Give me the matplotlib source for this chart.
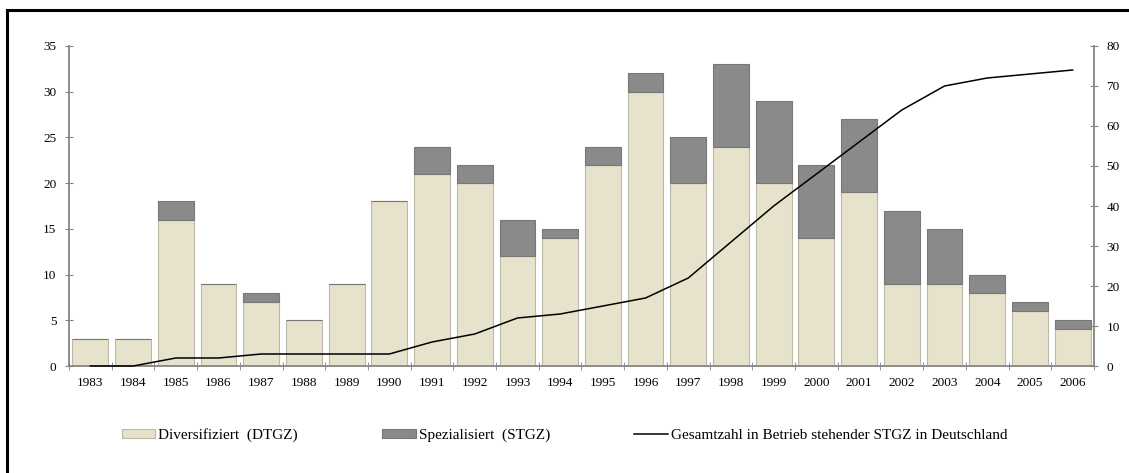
import numpy as np
import matplotlib.pyplot as plt
from matplotlib.lines import Line2D

plt.rcParams['font.family'] = ['Liberation Serif', 'DejaVu Serif']

# Daten
jahre = [str(j) for j in range(1983, 2007)]
diversifiziert = [3, 3, 16, 9, 7, 5, 9, 18, 21, 20, 12, 14, 22, 30, 20, 24, 20, 14, 19, 9, 9, 8, 6, 4]
spezialisiert = [0, 0, 2, 0, 1, 0, 0, 0, 3, 2, 4, 1, 2, 2, 5, 9, 9, 8, 8, 8, 6, 2, 1, 1]
gesamt_stgz = [0, 0, 2, 2, 3, 3, 3, 3, 6, 8, 12, 13, 15, 17, 22, 31, 40, 48, 56, 64, 70, 72, 73, 74]

FARBE_DIV = "#e6e2cc"
FARBE_SPEZ = "#8a8a8a"
ACHSE = "#858585"

fig = plt.figure(figsize=(11.29, 4.73), dpi=100)
ax1 = fig.add_axes([69 / 1129, 1 - 366 / 473, (1094 - 69) / 1129, 320 / 473])

x = np.arange(len(jahre))
ax1.bar(x, diversifiziert, width=0.84, color=FARBE_DIV, edgecolor="#bdb9a6", linewidth=0.8,
        label="Diversifiziert  (DTGZ)")
ax1.bar(x, spezialisiert, width=0.84, bottom=diversifiziert, color=FARBE_SPEZ, edgecolor="#777777",
        linewidth=0.8, label="Spezialisiert  (STGZ)")

ax1.set_xlim(-0.5, len(jahre) - 0.5)
ax1.set_ylim(0, 35)
ax1.set_yticks(range(0, 36, 5))
ax1.set_xticks(x)
ax1.set_xticklabels(jahre)
ax1.set_xticks(np.arange(-0.5, len(jahre), 1), minor=True)
ax1.tick_params(axis='x', which='major', length=0, pad=8, labelsize=9.5)
ax1.tick_params(axis='x', which='minor', length=6, direction='inout', color=ACHSE)
ax1.tick_params(axis='y', length=6, direction='inout', color=ACHSE, labelsize=9.5, pad=6)

ax2 = ax1.twinx()
ax2.plot(x, gesamt_stgz, color="black", linewidth=1.1, clip_on=False, zorder=5,
         label="Gesamtzahl in Betrieb stehender STGZ in Deutschland")
ax2.set_ylim(0, 80)
ax2.set_yticks(range(0, 81, 10))
ax2.tick_params(axis='y', length=6, direction='inout', color=ACHSE, labelsize=9.5, pad=6)

for ax in (ax1, ax2):
    ax.spines['top'].set_visible(False)
    for s in ('left', 'right', 'bottom'):
        ax.spines[s].set_color(ACHSE)
        ax.spines[s].set_linewidth(1.3)
ax1.spines['right'].set_visible(False)
ax2.spines['left'].set_visible(False)
ax2.spines['bottom'].set_visible(False)

h1, l1 = ax1.get_legend_handles_labels()
h2, l2 = ax2.get_legend_handles_labels()
fig.legend(h1 + h2, l1 + l2, loc='center', bbox_to_anchor=(0.5, 1 - 435 / 473), ncol=3,
           frameon=False, fontsize=11, handlelength=2.2, handleheight=0.5, columnspacing=5.5,
           handletextpad=0.2)

# Rahmen (oben und links)
fig.add_artist(Line2D([7 / 1129, 1], [1 - 10 / 473, 1 - 10 / 473], color="black", linewidth=2.2,
                      transform=fig.transFigure))
fig.add_artist(Line2D([7 / 1129, 7 / 1129], [0, 1 - 10 / 473], color="black", linewidth=2.2,
                      transform=fig.transFigure))

fig.savefig("out.png", dpi=100)
